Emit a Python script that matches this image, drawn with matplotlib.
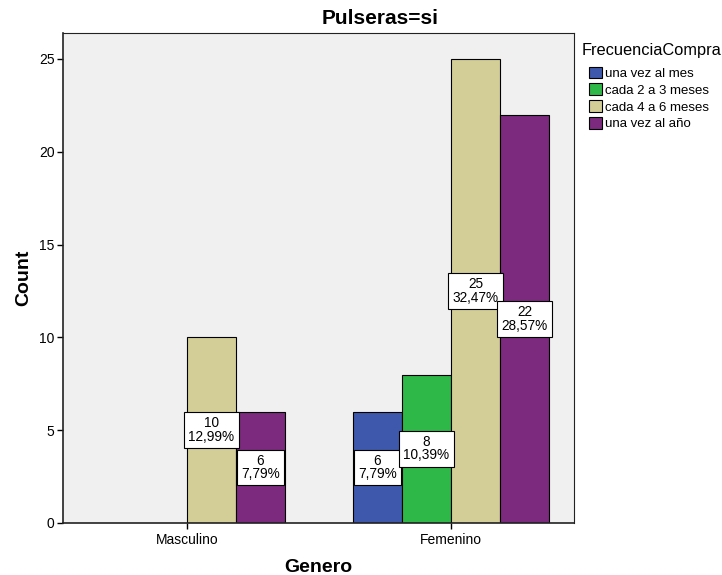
import matplotlib
matplotlib.use("Agg")
import matplotlib.pyplot as plt
from matplotlib.patches import Patch

plt.rcParams['font.family'] = ['Liberation Sans', 'DejaVu Sans']

groups = ["Masculino", "Femenino"]
series = ["una vez al mes", "cada 2 a 3 meses", "cada 4 a 6 meses", "una vez al año"]
colors = ["#3E58AC", "#2EB848", "#D3CE97", "#7B2A7E"]
counts = {
    "una vez al mes":   [None, 6],
    "cada 2 a 3 meses": [None, 8],
    "cada 4 a 6 meses": [10, 25],
    "una vez al año":   [6, 22],
}
percents = {
    "una vez al mes":   [None, "7,79%"],
    "cada 2 a 3 meses": [None, "10,39%"],
    "cada 4 a 6 meses": ["12,99%", "32,47%"],
    "una vez al año":   ["7,79%", "28,57%"],
}

fig = plt.figure(figsize=(7.22, 5.75), dpi=100)
ax = fig.add_axes([63/722, 1-523/575, (574-63)/722, (523-33)/575])
ax.set_facecolor("#F0F0F0")

width = 0.1856
for i, s in enumerate(series):
    offset = (i - 1.5) * width
    for g, v in enumerate(counts[s]):
        if v is None:
            continue
        x = g + offset
        ax.bar(x, v, width=width, color=colors[i], edgecolor="black", linewidth=0.8, zorder=2)
        ax.text(x, v / 2, f"{v}\n{percents[s][g]}", ha="center", va="center",
                fontsize=9.8, linespacing=0.95, zorder=3,
                bbox=dict(boxstyle="square,pad=0.3", facecolor="white", edgecolor="black", linewidth=0.8))

ax.set_xlim(-0.47, 1.466)
ax.set_ylim(0, 26.4)
ax.set_xticks(range(len(groups)))
ax.set_xticklabels(groups, fontsize=10)
ax.set_yticks([0, 5, 10, 15, 20, 25])
ax.tick_params(axis='y', labelsize=10, length=4, width=1, pad=2)
ax.tick_params(axis='x', length=4, width=1, pad=3)
for sp in ax.spines.values():
    sp.set_linewidth(0.8)
    sp.set_color("#222222")
ax.spines['left'].set_linewidth(1.2)
ax.spines['bottom'].set_linewidth(1.2)

ax.set_ylabel("Count", fontsize=14, fontweight="bold", labelpad=5)
ax.set_xlabel("Genero", fontsize=14, fontweight="bold", labelpad=9)
fig.text(380/722, 1-18/575, "Pulseras=si", fontsize=15, fontweight="bold", ha="center", va="center")

fig.text(582/722, 1-50/575, "FrecuenciaCompra", fontsize=11.8, ha="left", va="center")
handles = [Patch(facecolor=c, edgecolor="black", linewidth=0.8) for c in colors]
leg = fig.legend(handles, series, loc="upper left",
                 bbox_to_anchor=(586/722, 1-64/575), frameon=False, fontsize=9.5,
                 handlelength=1.0, handleheight=1.0,
                 handletextpad=0.25, labelspacing=0.25, borderaxespad=0, borderpad=0.2)

fig.savefig("out.png", dpi=100, facecolor="white")
